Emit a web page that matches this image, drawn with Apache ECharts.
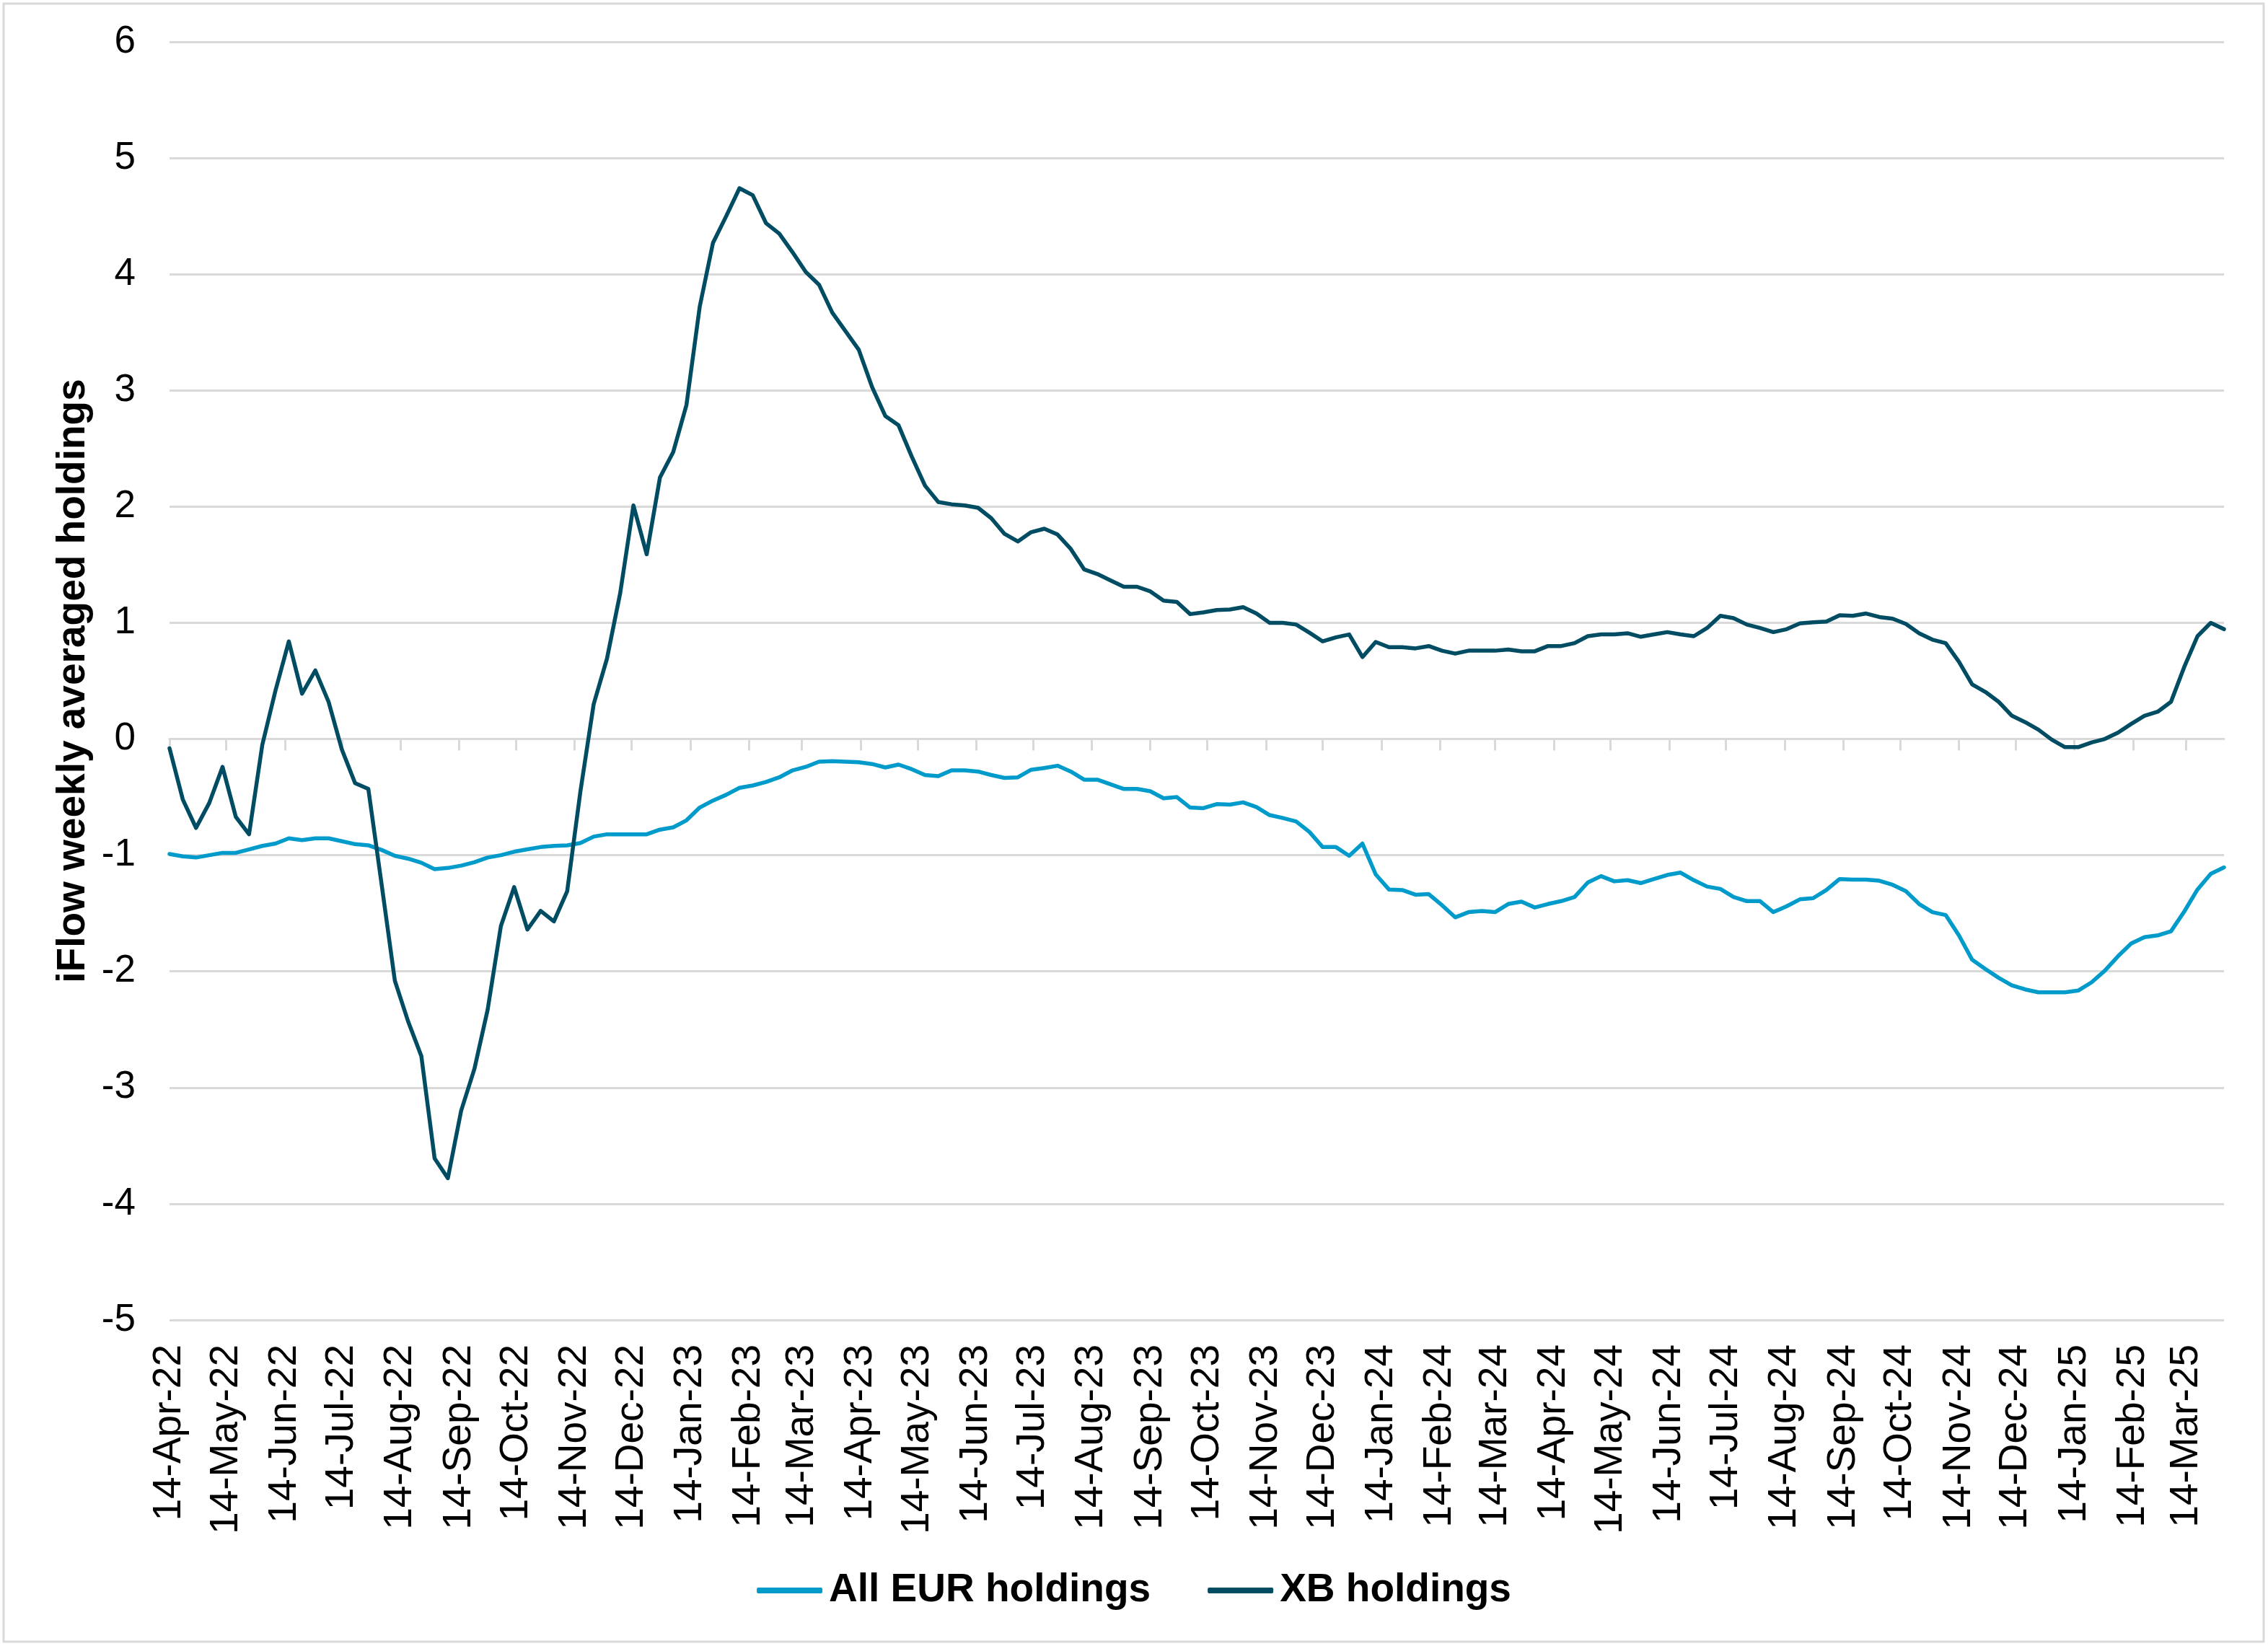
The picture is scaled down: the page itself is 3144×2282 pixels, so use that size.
<!DOCTYPE html>
<html>
<head>
<meta charset="utf-8">
<script src="https://cdn.jsdelivr.net/npm/echarts@6/dist/echarts.min.js"></script>
<style>
  html, body { margin: 0; padding: 0; background: #ffffff; }
  #chart { width: 3144px; height: 2282px; }
</style>
</head>
<body>
<div id="chart"></div>
<script>
// ---------------- DATA ----------------
const startDate = '2022-04-14'; // first weekly observation, one point per week

const seriesNames = ['All EUR holdings', 'XB holdings'];

const allEurHoldings = [
  -0.99, -1.01, -1.02, -1.00, -0.98, -0.98, -0.95, -0.92, -0.90, -0.855,
  -0.87, -0.855, -0.855, -0.88, -0.905, -0.915, -0.955, -1.005, -1.03, -1.065,
  -1.12, -1.11, -1.09, -1.06, -1.02, -1.00, -0.97, -0.95, -0.93, -0.92,
  -0.915, -0.895, -0.84, -0.82, -0.82, -0.82, -0.82, -0.78, -0.76, -0.70,
  -0.59, -0.53, -0.48, -0.42, -0.40, -0.37, -0.33, -0.27, -0.24, -0.195,
  -0.19, -0.195, -0.20, -0.215, -0.245, -0.22, -0.26, -0.31, -0.32, -0.27,
  -0.27, -0.28, -0.31, -0.335, -0.33, -0.265, -0.25, -0.23, -0.28, -0.35,
  -0.35, -0.39, -0.43, -0.43, -0.45, -0.51, -0.50, -0.59, -0.595, -0.56,
  -0.565, -0.545, -0.585, -0.655, -0.68, -0.71, -0.80, -0.93, -0.93, -1.005,
  -0.90, -1.165, -1.295, -1.30, -1.34, -1.335, -1.43, -1.535, -1.49, -1.48,
  -1.49, -1.42, -1.40, -1.45, -1.42, -1.395, -1.36, -1.235, -1.18, -1.225,
  -1.215, -1.24, -1.205, -1.17, -1.15, -1.215, -1.27, -1.29, -1.36, -1.395,
  -1.395, -1.49, -1.44, -1.38, -1.37, -1.30, -1.205, -1.21, -1.21, -1.22,
  -1.255, -1.31, -1.42, -1.49, -1.515, -1.69, -1.90, -1.98, -2.055, -2.12,
  -2.155, -2.18, -2.18, -2.18, -2.165, -2.095, -1.995, -1.87, -1.76, -1.705,
  -1.69, -1.655, -1.485, -1.295, -1.16, -1.105
];

const xbHoldings = [
  -0.08, -0.52, -0.765, -0.55, -0.24, -0.67, -0.82, -0.05, 0.42, 0.84,
  0.39, 0.59, 0.32, -0.09, -0.38, -0.43, -1.25, -2.08, -2.43, -2.73,
  -3.61, -3.78, -3.20, -2.84, -2.33, -1.61, -1.275, -1.64, -1.48, -1.57,
  -1.31, -0.45, 0.30, 0.69, 1.255, 2.01, 1.59, 2.25, 2.47, 2.875,
  3.72, 4.27, 4.50, 4.74, 4.68, 4.44, 4.35, 4.19, 4.02, 3.91,
  3.67, 3.51, 3.35, 3.03, 2.78, 2.70, 2.43, 2.18, 2.04, 2.02,
  2.01, 1.99, 1.90, 1.765, 1.70, 1.78, 1.81, 1.76, 1.635, 1.46,
  1.42, 1.365, 1.31, 1.31, 1.27, 1.19, 1.18, 1.075, 1.09, 1.11,
  1.115, 1.135, 1.08, 1.00, 1.00, 0.985, 0.915, 0.84, 0.875, 0.90,
  0.705, 0.835, 0.79, 0.79, 0.78, 0.80, 0.76, 0.735, 0.76, 0.76,
  0.76, 0.77, 0.755, 0.755, 0.80, 0.80, 0.825, 0.885, 0.90, 0.90,
  0.91, 0.88, 0.90, 0.92, 0.90, 0.885, 0.955, 1.06, 1.04, 0.985,
  0.955, 0.92, 0.945, 0.995, 1.005, 1.01, 1.065, 1.06, 1.08, 1.05,
  1.035, 0.99, 0.91, 0.855, 0.825, 0.665, 0.47, 0.405, 0.32, 0.20,
  0.145, 0.08, -0.005, -0.07, -0.07, -0.03, 0.00, 0.055, 0.13, 0.20,
  0.235, 0.32, 0.62, 0.885, 1.00, 0.945
];

const xTickLabels = [
  '14-Apr-22', '14-May-22', '14-Jun-22', '14-Jul-22', '14-Aug-22', '14-Sep-22',
  '14-Oct-22', '14-Nov-22', '14-Dec-22', '14-Jan-23', '14-Feb-23', '14-Mar-23',
  '14-Apr-23', '14-May-23', '14-Jun-23', '14-Jul-23', '14-Aug-23', '14-Sep-23',
  '14-Oct-23', '14-Nov-23', '14-Dec-23', '14-Jan-24', '14-Feb-24', '14-Mar-24',
  '14-Apr-24', '14-May-24', '14-Jun-24', '14-Jul-24', '14-Aug-24', '14-Sep-24',
  '14-Oct-24', '14-Nov-24', '14-Dec-24', '14-Jan-25', '14-Feb-25', '14-Mar-25'
];

const yTicks = { min: -5, max: 6, interval: 1 };
const yAxisTitle = 'iFlow weekly averaged holdings';

// ---------------- BUILD ----------------
const MONTHS = { Jan: 0, Feb: 1, Mar: 2, Apr: 3, May: 4, Jun: 5, Jul: 6, Aug: 7, Sep: 8, Oct: 9, Nov: 10, Dec: 11 };
const DAY = 86400000;
function parseTickLabel(s) {
  const p = s.split('-');
  return Date.UTC(2000 + Number(p[2]), MONTHS[p[1]], Number(p[0]));
}
const startParts = startDate.split('-').map(Number);
const startTs = Date.UTC(startParts[0], startParts[1] - 1, startParts[2]);
// x positions are day numbers (days since the first observation)
const weekDays = xbHoldings.map((_, i) => i * 7);
const endDay = weekDays[weekDays.length - 1];

const tickDays = xTickLabels.map(s => Math.round((parseTickLabel(s) - startTs) / DAY));
const tickLabelMap = {};
tickDays.forEach((v, i) => { tickLabelMap[v] = xTickLabels[i]; });

const eurData = allEurHoldings.map((v, i) => [weekDays[i], v]);
const xbData = xbHoldings.map((v, i) => [weekDays[i], v]);

const FONT = "'Liberation Sans', Arial, Helvetica, sans-serif";
const GRID_COLOR = '#d9d9d9';
const EUR_COLOR = '#009bcb';
const XB_COLOR = '#004c63';

const chart = echarts.init(document.getElementById('chart'), null, { renderer: 'canvas' });

chart.setOption({
  backgroundColor: '#ffffff',
  animation: false,
  textStyle: { fontFamily: FONT },
  graphic: [{
    type: 'rect',
    silent: true,
    z: -10,
    shape: { x: 5, y: 5, width: 3133, height: 2271 },
    style: { fill: null, stroke: GRID_COLOR, lineWidth: 3 }
  }],
  grid: {
    left: 235,
    right: 61,
    top: 58,
    bottom: 452,
    containLabel: false,
    outerBoundsMode: 'none'
  },
  legend: {
    data: seriesNames,
    left: 'center',
    top: 2172,
    icon: 'roundRect',
    itemWidth: 91,
    itemHeight: 8,
    itemGap: 79,
    textStyle: {
      fontFamily: FONT,
      fontSize: 55,
      fontWeight: 'bold',
      color: '#000000',
      lineHeight: 56,
      padding: [0, 0, 0, 4]
    }
  },
  xAxis: [
    {
      type: 'value',
      gridIndex: 0,
      position: 'bottom',
      min: 0,
      max: endDay,
      axisLine: { show: true, onZero: true, lineStyle: { color: GRID_COLOR, width: 3 } },
      axisTick: {
        show: true,
        customValues: tickDays,
        length: 16,
        inside: false,
        lineStyle: { color: GRID_COLOR, width: 3 }
      },
      axisLabel: { show: false },
      splitLine: { show: false },
      minorTick: { show: false }
    },
    {
      type: 'value',
      gridIndex: 0,
      position: 'bottom',
      min: 0,
      max: endDay,
      axisLine: { show: false, onZero: false },
      axisTick: { show: false },
      splitLine: { show: false },
      axisLabel: {
        show: true,
        customValues: tickDays,
        rotate: 90,
        margin: 34,
        fontFamily: FONT,
        fontSize: 55,
        color: '#000000',
        showMinLabel: true,
        showMaxLabel: true,
        formatter: function (v) { return tickLabelMap[v] || ''; }
      }
    }
  ],
  yAxis: {
    type: 'value',
    min: yTicks.min,
    max: yTicks.max,
    interval: yTicks.interval,
    name: yAxisTitle,
    nameLocation: 'middle',
    nameRotate: 90,
    nameGap: 106,
    nameTextStyle: {
      fontFamily: FONT,
      fontSize: 55,
      fontWeight: 'bold',
      color: '#000000'
    },
    axisLine: { show: false },
    axisTick: { show: false },
    axisLabel: {
      margin: 47,
      fontFamily: FONT,
      fontSize: 53,
      color: '#000000'
    },
    splitLine: { show: true, lineStyle: { color: GRID_COLOR, width: 3 } }
  },
  series: [
    {
      name: seriesNames[0],
      type: 'line',
      xAxisIndex: 0,
      data: eurData,
      symbol: 'none',
      showSymbol: false,
      smooth: false,
      color: EUR_COLOR,
      lineStyle: { color: EUR_COLOR, width: 5.5, cap: 'round', join: 'round' },
      itemStyle: { color: EUR_COLOR },
      z: 3
    },
    {
      name: seriesNames[1],
      type: 'line',
      xAxisIndex: 0,
      data: xbData,
      symbol: 'none',
      showSymbol: false,
      smooth: false,
      color: XB_COLOR,
      lineStyle: { color: XB_COLOR, width: 5.5, cap: 'round', join: 'round' },
      itemStyle: { color: XB_COLOR },
      z: 4
    }
  ]
});
</script>
</body>
</html>
